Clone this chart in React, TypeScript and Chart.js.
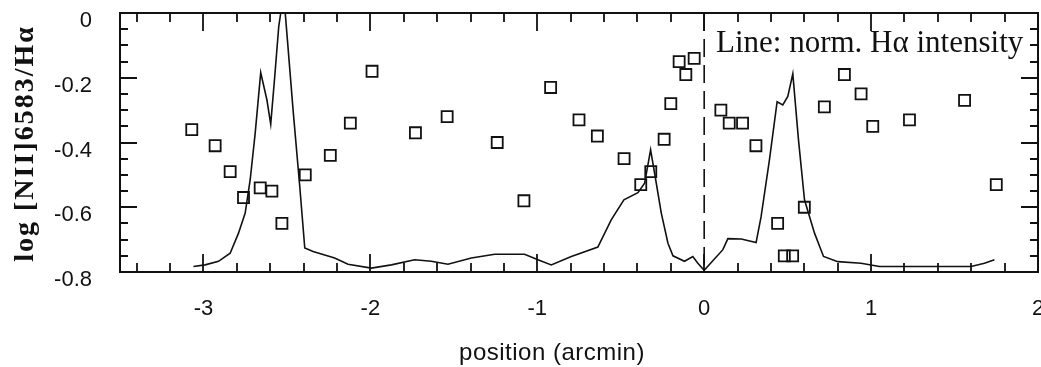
import React, { useEffect, useRef } from 'react';
import { Chart, registerables } from 'chart.js';

Chart.register(...registerables);

// Squares: log [NII]6583/Hα ratio
const squareX = [-3.07, -2.93, -2.84, -2.76, -2.66, -2.59, -2.53, -2.39, -2.24, -2.12, -1.99, -1.73, -1.54, -1.24, -1.08, -0.92, -0.75, -0.64, -0.48, -0.38, -0.32, -0.24, -0.20, -0.15, -0.11, -0.06, 0.10, 0.15, 0.23, 0.31, 0.44, 0.48, 0.53, 0.60, 0.72, 0.84, 0.94, 1.01, 1.23, 1.56, 1.75];
const squareY = [-0.36, -0.41, -0.49, -0.57, -0.54, -0.55, -0.65, -0.50, -0.44, -0.34, -0.18, -0.37, -0.32, -0.40, -0.58, -0.23, -0.33, -0.38, -0.45, -0.53, -0.49, -0.39, -0.28, -0.15, -0.19, -0.14, -0.30, -0.34, -0.34, -0.41, -0.65, -0.75, -0.75, -0.60, -0.29, -0.19, -0.25, -0.35, -0.33, -0.27, -0.53];

// Line: normalised Hα intensity
const lineX = [-3.06, -2.99, -2.91, -2.84, -2.79, -2.75, -2.72, -2.69, -2.657, -2.62, -2.597, -2.573, -2.549, -2.537, -2.51, -2.497, -2.463, -2.423, -2.393, -2.343, -2.214, -2.134, -1.994, -1.874, -1.735, -1.635, -1.535, -1.395, -1.255, -1.076, -0.996, -0.916, -0.796, -0.637, -0.557, -0.481, -0.397, -0.357, -0.321, -0.297, -0.257, -0.217, -0.187, -0.118, -0.068, -0.038, 0.0, 0.112, 0.142, 0.222, 0.311, 0.341, 0.391, 0.437, 0.471, 0.501, 0.531, 0.565, 0.601, 0.661, 0.715, 0.801, 0.94, 1.05, 1.32, 1.599, 1.679, 1.739];
const lineY = [-0.783, -0.778, -0.767, -0.742, -0.68, -0.618, -0.515, -0.371, -0.184, -0.268, -0.343, -0.197, -0.042, 0.0, 0.0, -0.083, -0.30, -0.536, -0.726, -0.737, -0.757, -0.776, -0.788, -0.778, -0.762, -0.767, -0.776, -0.757, -0.745, -0.745, -0.762, -0.778, -0.752, -0.723, -0.639, -0.577, -0.555, -0.526, -0.423, -0.495, -0.618, -0.711, -0.75, -0.767, -0.752, -0.773, -0.795, -0.731, -0.697, -0.698, -0.709, -0.629, -0.454, -0.274, -0.284, -0.258, -0.188, -0.392, -0.577, -0.68, -0.752, -0.768, -0.773, -0.783, -0.783, -0.783, -0.773, -0.762];

// Dashed reference line at position 0
const zeroLineX = [0, 0];
const zeroLineY = [0, -0.8];

const xMajorTicks = [-3, -2, -1, 0, 1, 2];
const yMajorTicks = [0, -0.2, -0.4, -0.6, -0.8];
const xMin = -3.5;
const xMax = 2;
const yMin = -0.8;
const yMax = 0;

const yTitle = 'log [NII]6583/Hα';
const xTitle = 'position (arcmin)';
const noteText = 'Line: norm. Hα intensity';

function minorList(min: number, max: number, step: number): number[] {
  const out: number[] = [];
  const n = Math.round((max - min) / step);
  for (let i = 0; i <= n; i++) out.push(+(min + i * step).toFixed(4));
  return out;
}

const zeroPad = (s: any) => {
  s.paddingTop = 0;
  s.paddingBottom = 0;
  s.paddingLeft = 0;
  s.paddingRight = 0;
};

const framePlugin = {
  id: 'frameTicks',
  afterDatasetsDraw(chart: any) {
    const { ctx, chartArea: a, scales } = chart;
    const xs = scales.x;
    const ys = scales.y;
    ctx.save();
    ctx.strokeStyle = '#111';
    ctx.lineWidth = 2;
    ctx.strokeRect(a.left, a.top, a.right - a.left, a.bottom - a.top);
    ctx.lineWidth = 1.8;
    ctx.beginPath();
    const xMinor = minorList(-3.4, 1.8, 0.2);
    xMinor.forEach((v) => {
      const isMajor = xMajorTicks.some((m) => Math.abs(m - v) < 1e-6);
      const len = isMajor ? 18 : 9;
      const px = Math.round(xs.getPixelForValue(v));
      ctx.moveTo(px, a.bottom);
      ctx.lineTo(px, a.bottom - len);
      ctx.moveTo(px, a.top);
      ctx.lineTo(px, a.top + len);
    });
    const yMinor = minorList(-0.75, -0.05, 0.05);
    yMinor.forEach((v) => {
      const isMajor = yMajorTicks.some((m) => Math.abs(m - v) < 1e-6);
      const len = isMajor ? 17 : 8;
      const py = Math.round(ys.getPixelForValue(v));
      ctx.moveTo(a.left, py);
      ctx.lineTo(a.left + len, py);
      ctx.moveTo(a.right, py);
      ctx.lineTo(a.right - len, py);
    });
    ctx.stroke();
    ctx.restore();
  },
  afterDraw(chart: any) {
    const { ctx, chartArea: a } = chart;
    ctx.save();
    ctx.fillStyle = '#111';
    // y title
    ctx.save();
    ctx.translate(26, (a.top + a.bottom) / 2 + 1);
    ctx.rotate(-Math.PI / 2);
    ctx.font = 'bold 28px "Liberation Serif"';
    (ctx as any).letterSpacing = '2px';
    ctx.textAlign = 'center';
    ctx.textBaseline = 'middle';
    ctx.fillText(yTitle, 0, 0);
    ctx.restore();
    // x title
    ctx.font = '24px "Liberation Sans"';
    (ctx as any).letterSpacing = '0.5px';
    ctx.textAlign = 'center';
    ctx.textBaseline = 'alphabetic';
    ctx.fillText(xTitle, 552, 360);
    // note
    ctx.font = '31px "Liberation Serif"';
    (ctx as any).letterSpacing = '0px';
    ctx.textAlign = 'left';
    ctx.fillText(noteText, 716, a.top + 39);
    ctx.restore();
  },
};

export default function App() {
  const ref = useRef<HTMLCanvasElement | null>(null);
  useEffect(() => {
    if (!ref.current) return;
    const squares = squareX.map((x, i) => ({ x, y: squareY[i] }));
    const line = lineX.map((x, i) => ({ x, y: lineY[i] }));
    const zero = zeroLineX.map((x, i) => ({ x, y: zeroLineY[i] }));
    const chart = new Chart(ref.current, {
      type: 'scatter',
      data: {
        datasets: [
          {
            label: 'log ratio',
            data: squares,
            showLine: false,
            pointStyle: 'rect',
            pointRadius: 7.8,
            pointBorderWidth: 1.8,
            borderColor: '#111',
            backgroundColor: 'rgba(0,0,0,0)',
          },
          {
            label: 'norm. Hα intensity',
            data: line,
            showLine: true,
            pointRadius: 0,
            borderWidth: 1.6,
            borderColor: '#111',
            backgroundColor: 'rgba(0,0,0,0)',
            tension: 0,
            clip: 0,
          },
          {
            label: 'zero',
            data: zero,
            showLine: true,
            pointRadius: 0,
            borderWidth: 1.6,
            borderDash: [18, 8],
            borderColor: '#111',
          },
        ],
      } as any,
      options: {
        animation: false,
        responsive: true,
        maintainAspectRatio: false,
        layout: { autoPadding: false, padding: { top: 13, right: 3, left: 0, bottom: 0 } },
        plugins: { legend: { display: false }, tooltip: { enabled: false } },
        scales: {
          x: {
            type: 'linear',
            min: xMin,
            max: xMax,
            grid: { display: false, drawTicks: false },
            border: { display: false },
            afterBuildTicks: (s: any) => {
              s.ticks = xMajorTicks.map((v) => ({ value: v }));
            },
            afterFit: (s: any) => {
              s.height = 95;
              zeroPad(s);
            },
            ticks: {
              color: '#111',
              font: { family: '"Liberation Sans"', size: 22 },
              padding: 24,
              maxRotation: 0,
              callback: (v: any) => String(v),
            },
          },
          y: {
            type: 'linear',
            min: yMin,
            max: yMax,
            grid: { display: false, drawTicks: false },
            border: { display: false },
            afterBuildTicks: (s: any) => {
              s.ticks = yMajorTicks.map((v) => ({ value: v }));
            },
            afterFit: (s: any) => {
              s.width = 120;
              zeroPad(s);
            },
            ticks: {
              color: '#111',
              font: { family: '"Liberation Sans"', size: 22 },
              padding: 28,
              labelOffset: 8,
              callback: (v: any) => (Math.abs(v) < 1e-9 ? '0' : Number(v).toFixed(1)),
            },
          },
        },
      },
      plugins: [framePlugin],
    });
    return () => chart.destroy();
  }, []);
  return (
    <div style={{ position: 'fixed', left: 0, top: 0, width: 1041, height: 367, background: '#fff' }}>
      <canvas ref={ref} />
    </div>
  );
}
